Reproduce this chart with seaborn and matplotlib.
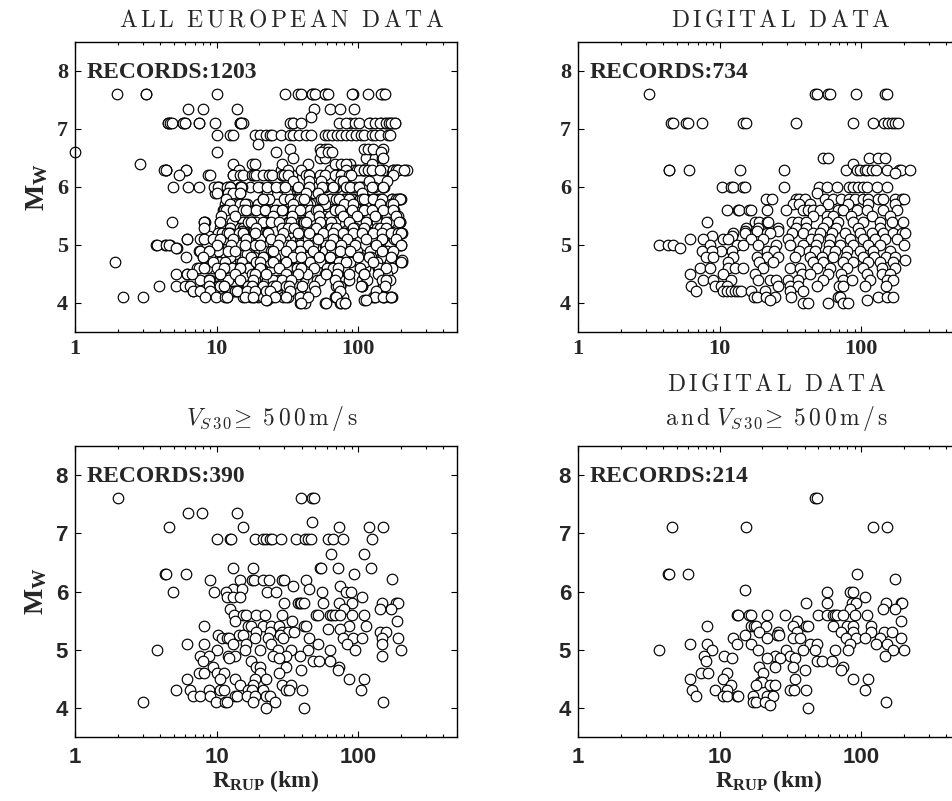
import matplotlib
matplotlib.use("Agg")
import matplotlib.pyplot as plt
import pandas as pd
import seaborn as sns
from matplotlib.ticker import LogLocator, FixedLocator, NullFormatter, FixedFormatter

# ---------------------------------------------------------------------------
# Records as (R_rup [km], Mw)
# ---------------------------------------------------------------------------
digital_rock = [
    (47, 7.6), (48.5, 7.6),
    (4.6, 7.1), (15.4, 7.1), (121, 7.1), (152, 7.1),
    (4.3, 6.3), (4.4, 6.3), (6.0, 6.3), (94, 6.3), (175, 6.22),
    (15.1, 6.03), (57, 6.0), (83, 6.0), (88, 6.0),
    (41, 5.8), (57, 5.8), (86, 5.8), (92, 5.8), (107, 5.9), (150, 5.8), (190, 5.8), (194, 5.8),
    (83, 5.7), (144, 5.7), (175, 5.7),
    (13.2, 5.6), (13.6, 5.6), (16.2, 5.6), (16.6, 5.6), (21.5, 5.6), (29, 5.6), (50, 5.6), (57, 5.6),
    (63.6, 5.6), (65.5, 5.6), (68, 5.6), (74, 5.6), (91, 5.6), (110, 5.6),
    (35, 5.5), (190, 5.5),
    (8.2, 5.4), (16.8, 5.4), (17.5, 5.4), (18, 5.4), (21.3, 5.4), (32.8, 5.4), (41, 5.4), (42.5, 5.4),
    (63.6, 5.4), (79, 5.4), (87, 5.4), (117, 5.4),
    (19, 5.3), (26, 5.3), (35, 5.3), (72, 5.3), (88, 5.3), (118, 5.3), (146, 5.3), (165, 5.3),
    (15.1, 5.25), (25.6, 5.25), (26.4, 5.25),
    (12.5, 5.2), (21.8, 5.2), (33, 5.2), (37.3, 5.2), (78, 5.2), (92, 5.2), (107, 5.2), (136, 5.2), (190, 5.2),
    (6.2, 5.1), (8.2, 5.1), (13.2, 5.1), (16.8, 5.1), (43.5, 5.1), (49.2, 5.1), (83, 5.1), (127, 5.1), (153, 5.1),
    (3.74, 5.0), (8.8, 5.0), (18.8, 5.0), (29.4, 5.0), (39, 5.0), (47.3, 5.0), (65.5, 5.0), (81, 5.0),
    (169, 5.0), (201, 5.0),
    (7.75, 4.9), (10.7, 4.9), (24.6, 4.9), (31.5, 4.9), (148, 4.9),
    (12.3, 4.85), (21.5, 4.85), (26.7, 4.85), (34, 4.85),
    (8.0, 4.8), (48.5, 4.8), (52.6, 4.8), (62.8, 4.8),
    (19, 4.7), (24.6, 4.7), (33, 4.7), (74.3, 4.7), (72, 4.65), (40, 4.65),
    (7.4, 4.6), (8.3, 4.6), (11.3, 4.6), (20.2, 4.6),
    (6.2, 4.5), (10.5, 4.5), (34, 4.5), (87, 4.5), (112, 4.5),
    (19.2, 4.45), (19.8, 4.45),
    (12, 4.4), (18.2, 4.4), (22.7, 4.4), (24.6, 4.4),
    (6.4, 4.3), (9.3, 4.3), (11.3, 4.3), (31.5, 4.3), (33.5, 4.3), (40.8, 4.3), (107, 4.3),
    (6.8, 4.2), (10.6, 4.2), (11.2, 4.2), (13.2, 4.2), (13.6, 4.2), (17.1, 4.2), (21.5, 4.2), (24, 4.2),
    (17.1, 4.1), (18, 4.1), (20.9, 4.1), (150, 4.1),
    (22.7, 4.05), (42.5, 4.0),
]

rock = [
    (2.0, 7.6), (39.3, 7.6), (47, 7.6), (48.5, 7.6),
    (6.3, 7.35), (7.95, 7.35), (14, 7.35), (47.3, 7.2),
    (4.6, 7.1), (15.4, 7.1), (73, 7.1), (119, 7.1), (151, 7.1),
    (10, 6.9), (12.4, 6.9), (12.7, 6.9), (18.6, 6.9), (21.2, 6.9), (22.4, 6.9), (23.9, 6.9), (24.8, 6.9),
    (28.4, 6.9), (36.3, 6.9), (42, 6.9), (44, 6.9), (46.8, 6.9), (61.3, 6.9), (66.4, 6.9), (77.7, 6.9), (126, 6.9),
    (64.6, 6.65), (111, 6.65),
    (13, 6.4), (18.1, 6.4), (53.5, 6.4), (55, 6.4), (72, 6.4), (124, 6.4),
    (4.3, 6.3), (4.4, 6.3), (6.1, 6.3), (93, 6.3),
    (9, 6.2), (14.6, 6.2), (17.7, 6.2), (18.3, 6.2), (21.2, 6.2), (23.5, 6.2), (28.8, 6.2), (30.2, 6.2),
    (42.7, 6.2), (175, 6.22),
    (34.8, 6.1), (74, 6.1), (13.1, 6.05), (15.1, 6.05), (45, 6.05),
    (4.94, 6.0), (9.6, 6.0), (11.6, 6.0), (22.9, 6.0), (26.2, 6.0), (55.7, 6.0), (82.6, 6.0), (88.6, 6.0),
    (11.9, 5.9), (13, 5.9), (14.7, 5.9), (107, 5.9),
    (30.2, 5.8), (37.9, 5.8), (38.6, 5.8), (39.8, 5.8), (41.4, 5.8), (56.4, 5.8), (73.6, 5.8), (90.8, 5.8),
    (148, 5.8), (186, 5.8), (191, 5.8),
    (12.4, 5.7), (79.3, 5.7), (142, 5.7), (172, 5.7),
    (13.2, 5.6), (15.4, 5.6), (16.2, 5.6), (19.1, 5.6), (21.9, 5.6), (28.8, 5.6), (50.3, 5.6), (52.1, 5.6),
    (63.1, 5.6), (65.6, 5.6), (68.2, 5.6), (74.8, 5.6), (90.8, 5.6), (111, 5.6),
    (13.5, 5.5), (34.3, 5.5), (188, 5.5),
    (8.1, 5.4), (16.7, 5.4), (17.4, 5.4), (21.2, 5.4), (24.4, 5.4), (27.6, 5.4), (41.4, 5.4), (43.2, 5.4),
    (86.2, 5.4), (114, 5.4), (61.3, 5.35), (74, 5.35),
    (19.1, 5.3), (23.9, 5.3), (28.8, 5.3), (32, 5.3), (35, 5.3), (142, 5.3), (157, 5.3),
    (10.3, 5.25), (14.4, 5.25), (15.4, 5.25), (28, 5.25),
    (11, 5.2), (11.8, 5.2), (12.3, 5.2), (18.6, 5.2), (23.2, 5.2), (29.5, 5.2), (45, 5.2), (78.5, 5.2),
    (92, 5.2), (107, 5.2), (147, 5.2), (191, 5.2),
    (6.2, 5.1), (8.1, 5.1), (13.1, 5.1), (16.2, 5.1), (24.4, 5.1), (52, 5.1), (83, 5.1), (148, 5.1),
    (3.77, 5.0), (10, 5.0), (15.8, 5.0), (20.2, 5.0), (27.2, 5.0), (33.8, 5.0), (44.3, 5.0), (63.8, 5.0),
    (94.5, 5.0), (202, 5.0),
    (7.6, 4.9), (8.9, 4.9), (12.1, 4.9), (13.5, 4.9), (25.1, 4.9), (31.2, 4.9), (38.6, 4.9), (148, 4.9),
    (12.3, 4.85), (27.6, 4.85),
    (8, 4.8), (17.4, 4.8), (48, 4.8), (52.8, 4.8), (63.1, 4.8),
    (9.5, 4.7), (19.1, 4.7), (20.4, 4.7), (30.8, 4.7), (73.6, 4.7), (39.8, 4.65), (72, 4.65),
    (7.5, 4.6), (8.2, 4.6), (10, 4.6), (11.3, 4.6), (20.4, 4.6), (27.6, 4.6),
    (6.2, 4.5), (10.6, 4.5), (13.5, 4.5), (18.6, 4.5), (22.5, 4.5), (86, 4.5), (111, 4.5),
    (14.6, 4.4), (18.1, 4.4), (29.2, 4.4), (33.8, 4.4),
    (5.16, 4.3), (6.5, 4.3), (8.9, 4.3), (10.6, 4.3), (11.3, 4.3), (16.7, 4.3), (17.7, 4.3), (21.2, 4.3),
    (31.2, 4.3), (32.5, 4.3), (40, 4.3), (105, 4.3),
    (6.8, 4.2), (7.6, 4.2), (9, 4.2), (13.5, 4.2), (14, 4.2), (16.5, 4.2), (18.6, 4.2), (22.5, 4.2), (23.7, 4.2),
    (3.04, 4.1), (9.9, 4.1), (11.4, 4.1), (11.8, 4.1), (18.1, 4.1), (25.8, 4.1), (150, 4.1),
    (22.5, 4.0), (41.4, 4.0),
]

digital = [
    (3.18, 7.6), (47.3, 7.6), (48.6, 7.6), (58.6, 7.6), (60, 7.6), (91.5, 7.6), (148, 7.6), (152, 7.6),
    (4.52, 7.1), (4.7, 7.1), (5.77, 7.1), (6.0, 7.1), (7.5, 7.1), (14.7, 7.1), (15.3, 7.1), (34.7, 7.1),
    (87.2, 7.1), (121, 7.1), (146, 7.1), (156, 7.1), (165, 7.1), (174, 7.1), (181, 7.1),
    (54.2, 6.5), (58.6, 6.5), (114, 6.5), (132, 6.5), (148, 6.5),
    (4.36, 6.3), (4.4, 6.3), (6.06, 6.3), (13.9, 6.3), (28.6, 6.3), (78.1, 6.3), (87.2, 6.4), (93.3, 6.3),
    (98.5, 6.3), (107, 6.3), (111, 6.3), (119, 6.3), (127, 6.3), (152, 6.3), (184, 6.3), (190, 6.3),
    (220, 6.3), (174, 6.25),
    (10.4, 6.0), (12.1, 6.0), (12.5, 6.0), (14.7, 6.0), (15.1, 6.0), (28.5, 6.0), (50.8, 6.0), (57.2, 6.0),
    (67.3, 6.0), (82.5, 6.0), (87.2, 6.0), (95.6, 6.0), (102.6, 6.0), (111, 6.0), (130, 6.0), (152, 6.0),
    (48.6, 5.9),
    (21.3, 5.8), (23.3, 5.8), (34.7, 5.8), (36.5, 5.8), (40.1, 5.8), (55.6, 5.8), (63.8, 5.8), (72.6, 5.8),
    (82.5, 5.8), (90.6, 5.8), (102.6, 5.8), (112.6, 5.8), (132, 5.8), (144, 5.8), (174, 5.8), (194, 5.8),
    (201, 5.8),
    (33, 5.7), (36.5, 5.7), (43.5, 5.7), (58.6, 5.7), (81.2, 5.7), (112.6, 5.7), (174, 5.7),
    (11.2, 5.6), (13.4, 5.6), (13.7, 5.6), (16.2, 5.6), (16.8, 5.6), (21.7, 5.6), (29.4, 5.6), (39, 5.6),
    (42.4, 5.6), (46, 5.6), (51.4, 5.6), (69, 5.6), (75, 5.6), (93, 5.6), (110, 5.6), (144, 5.6), (178, 5.6),
    (46, 5.5), (57.2, 5.5), (63.8, 5.5), (85, 5.5), (120, 5.5), (160, 5.5),
    (8.2, 5.4), (17.8, 5.4), (19.0, 5.4), (21.7, 5.4), (22.1, 5.4), (32.3, 5.4), (35.6, 5.4), (41.1, 5.4),
    (57.2, 5.4), (69, 5.4), (88, 5.4), (104, 5.4), (136, 5.4), (166, 5.4), (197, 5.4),
    (15.5, 5.3), (18.7, 5.3), (25.7, 5.3), (34.7, 5.3), (41.1, 5.3), (54.2, 5.3), (66.5, 5.3), (95.6, 5.3),
    (136, 5.3), (15.1, 5.25), (18.3, 5.25), (26, 5.25),
    (12.5, 5.2), (15.1, 5.2), (21.5, 5.2), (22.7, 5.2), (32.7, 5.2), (39, 5.2), (46, 5.2), (51.4, 5.2),
    (62.2, 5.2), (77.1, 5.2), (98.5, 5.2), (119, 5.2), (144, 5.2), (169, 5.2), (194, 5.2), (206, 5.2),
    (8.9, 5.15), (12.3, 5.15),
    (6.15, 5.1), (7.67, 5.1), (10.5, 5.1), (11.5, 5.1), (16.8, 5.1), (20.4, 5.1), (30.6, 5.1), (44.3, 5.1),
    (49.9, 5.1), (60, 5.1), (83.7, 5.1), (104, 5.1), (125, 5.1), (148, 5.1), (178, 5.1),
    (3.74, 5.0), (4.33, 5.0), (4.7, 5.0), (5.24, 4.95), (8.5, 5.0), (10.3, 4.9), (13.2, 5.0), (14.7, 5.0),
    (18.7, 5.0), (25.2, 5.0), (31.4, 5.0), (38.7, 5.0), (47.9, 5.0), (59.5, 5.0), (71.2, 5.0), (88, 5.0),
    (112.6, 5.0), (136, 5.0), (201, 5.0),
    (7.5, 4.9), (8.8, 4.9), (12.2, 4.9), (21.7, 4.9), (24.3, 4.9), (36.5, 4.9), (43, 4.9), (47.3, 4.9),
    (58.6, 4.9), (65.5, 4.9), (79.2, 4.9), (98.5, 4.9), (122, 4.9), (160, 4.9),
    (8.0, 4.8), (9.0, 4.8), (12.5, 4.8), (18.5, 4.8), (21.7, 4.8), (26, 4.8), (34.2, 4.8), (43.5, 4.8),
    (52.6, 4.8), (63.8, 4.8), (78.1, 4.8), (102.6, 4.8), (123, 4.8), (150, 4.8), (174, 4.8), (206, 4.75),
    (11.5, 4.7), (19, 4.7), (23.9, 4.7), (46, 4.7), (54.2, 4.7), (74.3, 4.7), (88, 4.7), (112.6, 4.7),
    (136, 4.7), (169, 4.7),
    (7.24, 4.6), (8.5, 4.6), (11.5, 4.6), (12.8, 4.6), (14.7, 4.6), (20.4, 4.6), (31.4, 4.6), (36.9, 4.6),
    (48.6, 4.6), (60, 4.6), (79.2, 4.6), (102.6, 4.6), (140, 4.6), (174, 4.6),
    (6.2, 4.5), (10.5, 4.5), (17.8, 4.5), (38, 4.5), (43.5, 4.5), (58.6, 4.5), (72.6, 4.5), (110, 4.5),
    (140, 4.5), (160, 4.5),
    (7.6, 4.4), (9.0, 4.4), (12, 4.4), (18.7, 4.4), (22.7, 4.4), (25.2, 4.4), (30.6, 4.4), (36.1, 4.4),
    (54.2, 4.4), (75, 4.4), (86, 4.4), (115, 4.4), (153, 4.4), (169, 4.4),
    (6.33, 4.3), (9.3, 4.3), (10.3, 4.3), (11.3, 4.3), (26, 4.3), (31.4, 4.3), (36, 4.3), (48.6, 4.3),
    (70, 4.3), (75, 4.3), (107, 4.3), (150, 4.3),
    (6.77, 4.2), (10.6, 4.2), (11.2, 4.2), (12, 4.2), (12.8, 4.2), (13.5, 4.2), (14.2, 4.2), (16.8, 4.2),
    (20.9, 4.2), (31.4, 4.2), (39, 4.2),
    (17.5, 4.1), (18.3, 4.1), (21.3, 4.1), (24.6, 4.1), (31.8, 4.1), (69, 4.1), (71, 4.1), (132, 4.1),
    (152, 4.1), (169, 4.1), (22.7, 4.05), (110, 4.05),
    (38.7, 4.0), (42.4, 4.0), (58.6, 4.0), (74.3, 4.0), (81, 4.0),
]

analog = [
    (1.0, 6.6),
    (1.99, 7.6), (3.2, 7.6), (10, 7.6), (30.7, 7.6), (37.7, 7.6), (39.8, 7.6), (46.9, 7.6), (49.3, 7.6),
    (58, 7.6), (61.2, 7.6), (90.8, 7.6), (117, 7.6), (145, 7.6), (154, 7.6),
    (6.3, 7.35), (7.96, 7.35), (14, 7.35), (48.8, 7.35), (63, 7.35), (75, 7.35), (94, 7.35), (46.8, 7.2),
    (4.55, 7.1), (4.68, 7.1), (4.88, 7.1), (5.75, 7.1), (5.97, 7.1), (7.55, 7.1), (9.7, 7.1), (14.6, 7.1),
    (15, 7.1), (33, 7.1), (34.8, 7.1), (39.8, 7.1), (73.6, 7.1), (82.6, 7.1), (94.5, 7.1), (101, 7.1),
    (119, 7.1), (132, 7.1), (142, 7.1), (158, 7.1), (165, 7.1), (171, 7.1), (181, 7.1),
    (10, 6.9), (12.4, 6.9), (13, 6.9), (18.6, 6.9), (20.4, 6.9), (22.5, 6.9), (23.9, 6.9), (24.8, 6.9),
    (28.4, 6.9), (33, 6.9), (34.8, 6.9), (38.2, 6.9), (42.7, 6.9), (46.8, 6.9), (58, 6.9), (61.3, 6.9),
    (65.8, 6.9), (71, 6.9), (76.2, 6.9), (82.6, 6.9), (89.5, 6.9), (96, 6.9), (105, 6.9), (111, 6.9),
    (126, 6.9), (132, 6.9), (142, 6.9), (163, 6.9), (169, 6.9),
    (19.7, 6.75),
    (33, 6.65), (54, 6.65), (58, 6.65), (61, 6.65), (110, 6.65), (117, 6.65), (128, 6.65), (150, 6.65),
    (10, 6.6), (26.2, 6.6), (55, 6.6), (61.3, 6.6), (65.8, 6.6), (146, 6.6),
    (34.8, 6.5), (150, 6.5),
    (2.9, 6.4), (13.1, 6.4), (17.9, 6.4), (18.6, 6.4), (29.2, 6.4), (44.3, 6.4), (68.4, 6.4), (75.2, 6.4),
    (82.6, 6.4), (126, 6.4),
    (4.24, 6.3), (4.42, 6.3), (6.13, 6.3), (14.4, 6.3), (32, 6.3), (39.8, 6.3), (82.6, 6.3), (101, 6.3),
    (111, 6.3), (117, 6.3), (126, 6.3), (144, 6.3), (176, 6.3), (186, 6.3), (191, 6.3), (212, 6.3),
    (5.42, 6.2), (8.97, 6.2), (13.1, 6.2), (14.7, 6.2), (15.4, 6.2), (17.7, 6.2), (18.3, 6.2), (18.9, 6.2),
    (21.2, 6.2), (23.5, 6.2), (24.8, 6.2), (28.8, 6.2), (30.2, 6.2), (32, 6.2), (42.7, 6.2), (45, 6.2),
    (53.5, 6.2), (58.2, 6.2), (68.4, 6.2), (75.2, 6.2), (86, 6.2), (89.5, 6.2), (177, 6.2),
    (34.8, 6.1), (45, 6.1), (55, 6.1), (74.4, 6.1), (78.5, 6.1), (120, 6.1), (160, 6.1),
    (4.94, 6.0), (6.3, 6.0), (7.55, 6.0), (9.58, 6.0), (10.3, 6.0), (11.8, 6.0), (12.4, 6.0), (15, 6.0),
    (19.7, 6.0), (22.9, 6.0), (26.2, 6.0), (30.7, 6.0), (37.7, 6.0), (45, 6.0), (55.7, 6.0), (66.4, 6.0),
    (82.6, 6.0), (88.3, 6.0), (102, 6.0), (126, 6.0), (150, 6.0),
    (10, 5.9), (12.1, 5.9), (13, 5.9), (14.7, 5.9), (43.2, 5.9), (52, 5.9), (107, 5.9),
    (11.6, 5.8), (21.2, 5.8), (30.2, 5.8), (33, 5.8), (37.9, 5.8), (38.6, 5.8), (41.4, 5.8), (55, 5.8),
    (56.4, 5.8), (69.5, 5.8), (73.6, 5.8), (86, 5.8), (107, 5.8), (111, 5.8), (128, 5.8), (148, 5.8),
    (186, 5.8), (191, 5.8), (198, 5.8),
    (12.4, 5.7), (14.6, 5.7), (15.8, 5.7), (34.8, 5.7), (79.3, 5.7), (92, 5.7), (142, 5.7), (172, 5.7),
    (177, 5.7),
    (11.6, 5.6), (13.1, 5.6), (15.4, 5.6), (16.2, 5.6), (19.1, 5.6), (21.9, 5.6), (25.8, 5.6), (28.8, 5.6),
    (34.8, 5.6), (38.6, 5.6), (50.3, 5.6), (52.1, 5.6), (68.4, 5.6), (74.8, 5.6), (90.8, 5.6), (111, 5.6),
    (126, 5.6), (150, 5.6), (177, 5.6),
    (10.7, 5.5), (13.5, 5.5), (25.1, 5.5), (34.3, 5.5), (52.8, 5.5), (78.5, 5.5), (97.5, 5.5), (131, 5.5),
    (186, 5.5),
    (4.88, 5.4), (8.13, 5.4), (10.6, 5.4), (16.7, 5.4), (17.4, 5.4), (21.2, 5.4), (24.4, 5.4), (27.6, 5.4),
    (33.8, 5.4), (41.4, 5.4), (43.2, 5.4), (53.5, 5.4), (64.6, 5.4), (86.2, 5.4), (114, 5.4), (158, 5.4),
    (194, 5.4),
    (8.1, 5.3), (19.1, 5.3), (28.8, 5.3), (32, 5.3), (35, 5.3), (50.8, 5.3), (64.6, 5.3), (70, 5.3),
    (92, 5.3), (111, 5.3), (142, 5.3), (157, 5.3),
    (10.3, 5.2), (11, 5.2), (11.8, 5.2), (12.3, 5.2), (14.4, 5.2), (15.4, 5.2), (18.6, 5.2), (23.2, 5.2),
    (29.5, 5.2), (37.7, 5.2), (45, 5.2), (56.4, 5.2), (66.4, 5.2), (78.5, 5.2), (92, 5.2), (107, 5.2),
    (128, 5.2), (147, 5.2), (172, 5.2), (191, 5.2), (202, 5.2),
    (6.2, 5.1), (8.1, 5.1), (9.5, 5.1), (10.6, 5.1), (13.1, 5.1), (16.2, 5.1), (24.4, 5.1), (28, 5.1),
    (52, 5.1), (66.4, 5.1), (83, 5.1), (114, 5.1), (148, 5.1), (186, 5.1),
    (3.77, 5.0), (4.38, 5.0), (4.63, 5.0), (5.2, 4.95), (10, 5.0), (12.7, 5.0), (15.8, 5.0), (20.2, 5.0),
    (27.2, 5.0), (33.8, 5.0), (44.3, 5.0), (63.8, 5.0), (76, 5.0), (94.5, 5.0), (134, 5.0), (202, 5.0),
    (7.6, 4.9), (8.9, 4.9), (12.1, 4.9), (13.5, 4.9), (25.1, 4.9), (31.2, 4.9), (38.6, 4.9), (48, 4.9),
    (74.4, 4.9), (87, 4.9), (148, 4.9), (177, 4.9),
    (6.13, 4.8), (8, 4.8), (17.4, 4.8), (21.2, 4.8), (34.8, 4.8), (39.8, 4.8), (52.8, 4.8), (63.1, 4.8),
    (100, 4.8), (120, 4.8), (172, 4.8),
    (1.92, 4.7), (9.5, 4.7), (19.1, 4.7), (20.4, 4.7), (25.1, 4.7), (30.8, 4.7), (73.6, 4.7), (82.6, 4.7),
    (128, 4.7), (202, 4.7),
    (7.5, 4.6), (8.2, 4.6), (10, 4.6), (11.3, 4.6), (14.6, 4.6), (20.4, 4.6), (27.6, 4.6), (39.8, 4.6),
    (66.4, 4.6), (72, 4.6), (158, 4.6),
    (5.2, 4.5), (6.2, 4.5), (6.75, 4.5), (10.6, 4.5), (13.5, 4.5), (18.6, 4.5), (22.5, 4.5), (31.2, 4.5),
    (37.7, 4.5), (59.2, 4.5), (71, 4.5), (86, 4.5), (111, 4.5), (138, 4.5),
    (8.9, 4.4), (14.6, 4.4), (18.1, 4.4), (29.2, 4.4), (33.8, 4.4), (68.4, 4.4), (148, 4.4), (158, 4.4),
    (3.94, 4.3), (5.16, 4.3), (5.97, 4.3), (6.5, 4.3), (8.9, 4.3), (10.6, 4.3), (11.3, 4.3), (16.7, 4.3),
    (17.7, 4.3), (21.2, 4.3), (25.1, 4.3), (26.4, 4.3), (31.2, 4.3), (32.5, 4.3), (40, 4.3), (72, 4.3),
    (105, 4.3), (154, 4.3),
    (6.8, 4.2), (7.6, 4.2), (9, 4.2), (13.5, 4.2), (14, 4.2), (16.5, 4.2), (18.6, 4.2), (22.5, 4.2),
    (23.7, 4.2), (33, 4.2), (49.5, 4.2), (74.4, 4.2), (134, 4.2),
    (2.17, 4.1), (3.04, 4.1), (8.25, 4.1), (9.9, 4.1), (11.4, 4.1), (11.8, 4.1), (15.8, 4.1), (18.1, 4.1),
    (25.8, 4.1), (31.2, 4.1), (38.6, 4.1), (44.3, 4.1), (70, 4.1), (132, 4.1), (150, 4.1), (172, 4.1),
    (22.5, 4.05), (114, 4.05),
    (39.8, 4.0), (59.2, 4.0), (75.2, 4.0), (81.5, 4.0),
]

# Analogue records in the crowded 8-200 km band
analog_dense = [
    (8.71, 6.2), (13.1, 6.2), (18.1, 6.2), (23.1, 6.2), (29.0, 6.2), (34.2, 6.2), (43.6, 6.2),
    (63.4, 6.3), (74.6, 6.3), (90.7, 6.3), (108, 6.3), (148, 6.3), (177, 6.3), (215, 6.3),
    (10.1, 6.0), (12.5, 6.0), (14.7, 6.0), (17.3, 6.0), (20.3, 6.0), (23.9, 6.0), (29.5, 6.0), (37.1, 6.0),
    (45.8, 6.0), (56.6, 6.0), (58.4, 6.0), (71.1, 6.0), (87.8, 6.0), (107, 6.0), (128, 6.0), (150, 6.0),
    (9.76, 5.9), (11.5, 5.9), (14.7, 5.9), (22.7, 5.9), (31.5, 5.9), (38.9, 5.9), (48.1, 5.9),
    (63.4, 5.8), (78.4, 5.8), (92.2, 5.8), (116, 5.8), (138, 5.8), (174, 5.8), (198, 5.8),
    (11.5, 5.7), (14.0, 5.7), (16.4, 5.7), (19.6, 5.7), (22.7, 5.7), (26.8, 5.7), (34.2, 5.7), (38.9, 5.7),
    (45.8, 5.7), (56.6, 5.7), (68.8, 5.7), (83.6, 5.7), (100, 5.7), (122, 5.7), (148, 5.7), (177, 5.7),
    (11.1, 5.6), (13.1, 5.6), (15.9, 5.6), (18.7, 5.6), (22.7, 5.6), (26.8, 5.6), (31.5, 5.6), (37.1, 5.6),
    (43.6, 5.6), (52.2, 5.6),
    (66.6, 5.5), (78.4, 5.5), (92.2, 5.5), (112, 5.5), (132, 5.5), (160, 5.5), (192, 5.5),
    (8.3, 5.4), (10.6, 5.4), (12.9, 5.4), (15.4, 5.4), (18.1, 5.4), (22.0, 5.4), (27.2, 5.4), (32.0, 5.4),
    (38.9, 5.4), (47.3, 5.4), (55.7, 5.4), (56.6, 5.4), (74.6, 5.4), (87.8, 5.4), (107, 5.4), (126, 5.4),
    (148, 5.4), (174, 5.4), (198, 5.4),
    (10.6, 5.3), (12.5, 5.3), (14.7, 5.3), (17.3, 5.3), (21.0, 5.3), (24.7, 5.3), (30.5, 5.3), (37.1, 5.3),
    (44.3, 5.3), (53.9, 5.3),
    (66.6, 5.2), (80.9, 5.2), (98.4, 5.2), (116, 5.2), (136, 5.2), (163, 5.2), (192, 5.2),
    (9.45, 5.1), (11.9, 5.1), (14.0, 5.1), (16.7, 5.1), (19.6, 5.1), (23.1, 5.1), (28.1, 5.1), (33.1, 5.1),
    (40.2, 5.1), (48.1, 5.1), (58.4, 5.1),
    (8.57, 5.0), (10.25, 5.0), (12.9, 5.0), (15.4, 5.0), (18.7, 5.0), (22.7, 5.0), (27.2, 5.0), (32.0, 5.0),
    (38.9, 5.0), (45.8, 5.0), (53.9, 5.0), (58.4, 5.0), (68.8, 5.0), (83.6, 5.0), (98.4, 5.0), (116, 5.0),
    (138, 5.0), (168, 5.0), (198, 5.0),
    (9.45, 4.85), (11.5, 4.85), (13.5, 4.85), (16.4, 4.85), (19.6, 4.85), (23.9, 4.85), (29.0, 4.85),
    (34.7, 4.85), (40.9, 4.85), (49.7, 4.85),
    (65.5, 4.9), (78.4, 4.9), (92.2, 4.9), (108, 4.9), (128, 4.9), (150, 4.9),
    (8.57, 4.7), (10.6, 4.7), (12.5, 4.7), (15.1, 4.7), (17.8, 4.7), (21.3, 4.7), (25.9, 4.7), (31.5, 4.7),
    (37.1, 4.7), (44.3, 4.7), (53.9, 4.7), (56.6, 4.7), (72.2, 4.7), (87.8, 4.7), (103, 4.7), (126, 4.7),
    (148, 4.7), (174, 4.7), (205, 4.7),
    (9.45, 4.6), (11.5, 4.6), (14.0, 4.6), (16.7, 4.6), (20.3, 4.6), (24.7, 4.6), (29.5, 4.6), (35.9, 4.6),
    (43.6, 4.6), (60.4, 4.6), (72.2, 4.6), (87.8, 4.6), (112, 4.6), (138, 4.6), (163, 4.6),
    (8.71, 4.4), (11.1, 4.4), (13.5, 4.4), (18.1, 4.4), (22.7, 4.4), (27.2, 4.4), (33.1, 4.4), (40.9, 4.4),
    (51.3, 4.4), (72.2, 4.4), (85, 4.4), (107, 4.4), (150, 4.4),
    (11.1, 4.3), (13.1, 4.3), (16.4, 4.3), (21.3, 4.3), (26.8, 4.3), (31.5, 4.3), (38.9, 4.3),
    (74.6, 4.3), (107, 4.3), (150, 4.3),
    (11.9, 4.1), (15.4, 4.1), (19.6, 4.1), (23.9, 4.1), (29.5, 4.1), (43.6, 4.1),
    (71.1, 4.1), (78.4, 4.1), (128, 4.1), (150, 4.1), (174, 4.1),
]

record_counts = ["RECORDS:1203", "RECORDS:734", "RECORDS:390", "RECORDS:214"]
title_all = "ALL EUROPEAN DATA"
title_digital = "DIGITAL DATA"
vs30_text = r"V_{S\,3\,0}\!\geq\ 5\,0\,0\,\mathrm{m\,/\,s}"
xtick_values = [1, 10, 100]
xtick_labels = ["1", "10", "100"]
ytick_values = [4, 5, 6, 7, 8]


def spaced(s):
    """Letter-spaced roman caption rendered with mathtext."""
    return r"$\mathrm{" + r"\,".join(r"\ " if c == " " else c for c in s) + "}$"


sns.set_style("ticks")
plt.rcParams.update({
    "mathtext.fontset": "custom",
    "mathtext.rm": "Liberation Serif:bold",
    "mathtext.bf": "Liberation Serif:bold",
    "mathtext.it": "Liberation Serif:bold",
    "axes.linewidth": 1.0,
    "axes.edgecolor": "black",
})

fig = plt.figure(figsize=(9.52, 8.01), dpi=100)
W, H = 952, 801


def add_axes(left, top, right, bottom):
    return fig.add_axes([left / W, 1 - bottom / H, (right - left) / W, (bottom - top) / H])


ax_all = add_axes(75, 42, 457, 332)
ax_dig = add_axes(578, 42, 960, 332)
ax_rock = add_axes(75, 446, 457, 737)
ax_digrock = add_axes(578, 446, 960, 737)

panels = [
    (ax_all, analog_dense + digital + analog, record_counts[0], True, False),
    (ax_dig, digital, record_counts[1], False, False),
    (ax_rock, rock, record_counts[2], True, True),
    (ax_digrock, digital_rock, record_counts[3], False, True),
]

for ax, recs, label, left_col, bottom_row in panels:
    df = pd.DataFrame(recs, columns=["rrup", "mw"])
    sns.scatterplot(data=df, x="rrup", y="mw", ax=ax, s=58, color="white",
                    edgecolor="black", linewidth=0.85, clip_on=False, legend=False)
    ax.set_xscale("log")
    ax.set_xlim(1, 500)
    ax.set_ylim(3.5, 8.5)
    ax.xaxis.set_major_locator(FixedLocator(xtick_values))
    ax.xaxis.set_major_formatter(FixedFormatter(xtick_labels))
    ax.xaxis.set_minor_locator(LogLocator(base=10, subs=range(2, 10)))
    ax.xaxis.set_minor_formatter(NullFormatter())
    ax.yaxis.set_major_locator(FixedLocator(ytick_values))
    ax.tick_params(which="both", direction="in", top=True, right=True, width=0.8, color="black")
    ax.tick_params(which="major", length=4.5)
    ax.tick_params(which="minor", length=2.5)
    if bottom_row:
        tick_font = {"family": "Liberation Sans", "weight": "bold", "size": 16}
        ax.tick_params(axis="x", which="major", pad=7)
    else:
        tick_font = {"family": "Liberation Serif", "weight": "bold", "size": 16}
        ax.tick_params(axis="x", which="major", pad=5)
    ax.tick_params(axis="y", which="major", pad=5)
    for t in ax.get_xticklabels() + ax.get_yticklabels():
        t.set_fontproperties(tick_font)
    for sp in ax.spines.values():
        sp.set_visible(True)
        sp.set_linewidth(1.0)
    ax.text(0.031, 0.876, label, transform=ax.transAxes, ha="left", va="baseline",
            fontfamily="Liberation Serif", fontweight="bold", fontsize=17)
    if left_col:
        ax.set_ylabel(r"$\mathbf{M_W}$", fontsize=20, labelpad=5)
    else:
        ax.set_ylabel("")
    if bottom_row:
        ax.set_xlabel(r"$\mathbf{R_{RUP}}$ (km)", fontfamily="Liberation Serif",
                      fontweight="bold", fontsize=17, labelpad=0)
    else:
        ax.set_xlabel("")

title_kw = dict(ha="center", va="baseline", fontsize=17, math_fontfamily="cm")
ax_all.text(0.54, 1.055, spaced(title_all), transform=ax_all.transAxes, **title_kw)
ax_dig.text(0.53, 1.055, spaced(title_digital), transform=ax_dig.transAxes, **title_kw)
ax_rock.text(0.515, 1.072, "$" + vs30_text + "$", transform=ax_rock.transAxes, **title_kw)
ax_digrock.text(0.52, 1.072, r"$\mathrm{a\,n\,d}\ " + vs30_text + "$",
                transform=ax_digrock.transAxes, **title_kw)
ax_digrock.text(0.52, 1.19, spaced(title_digital), transform=ax_digrock.transAxes, **title_kw)

fig.savefig("out.png", dpi=100)
